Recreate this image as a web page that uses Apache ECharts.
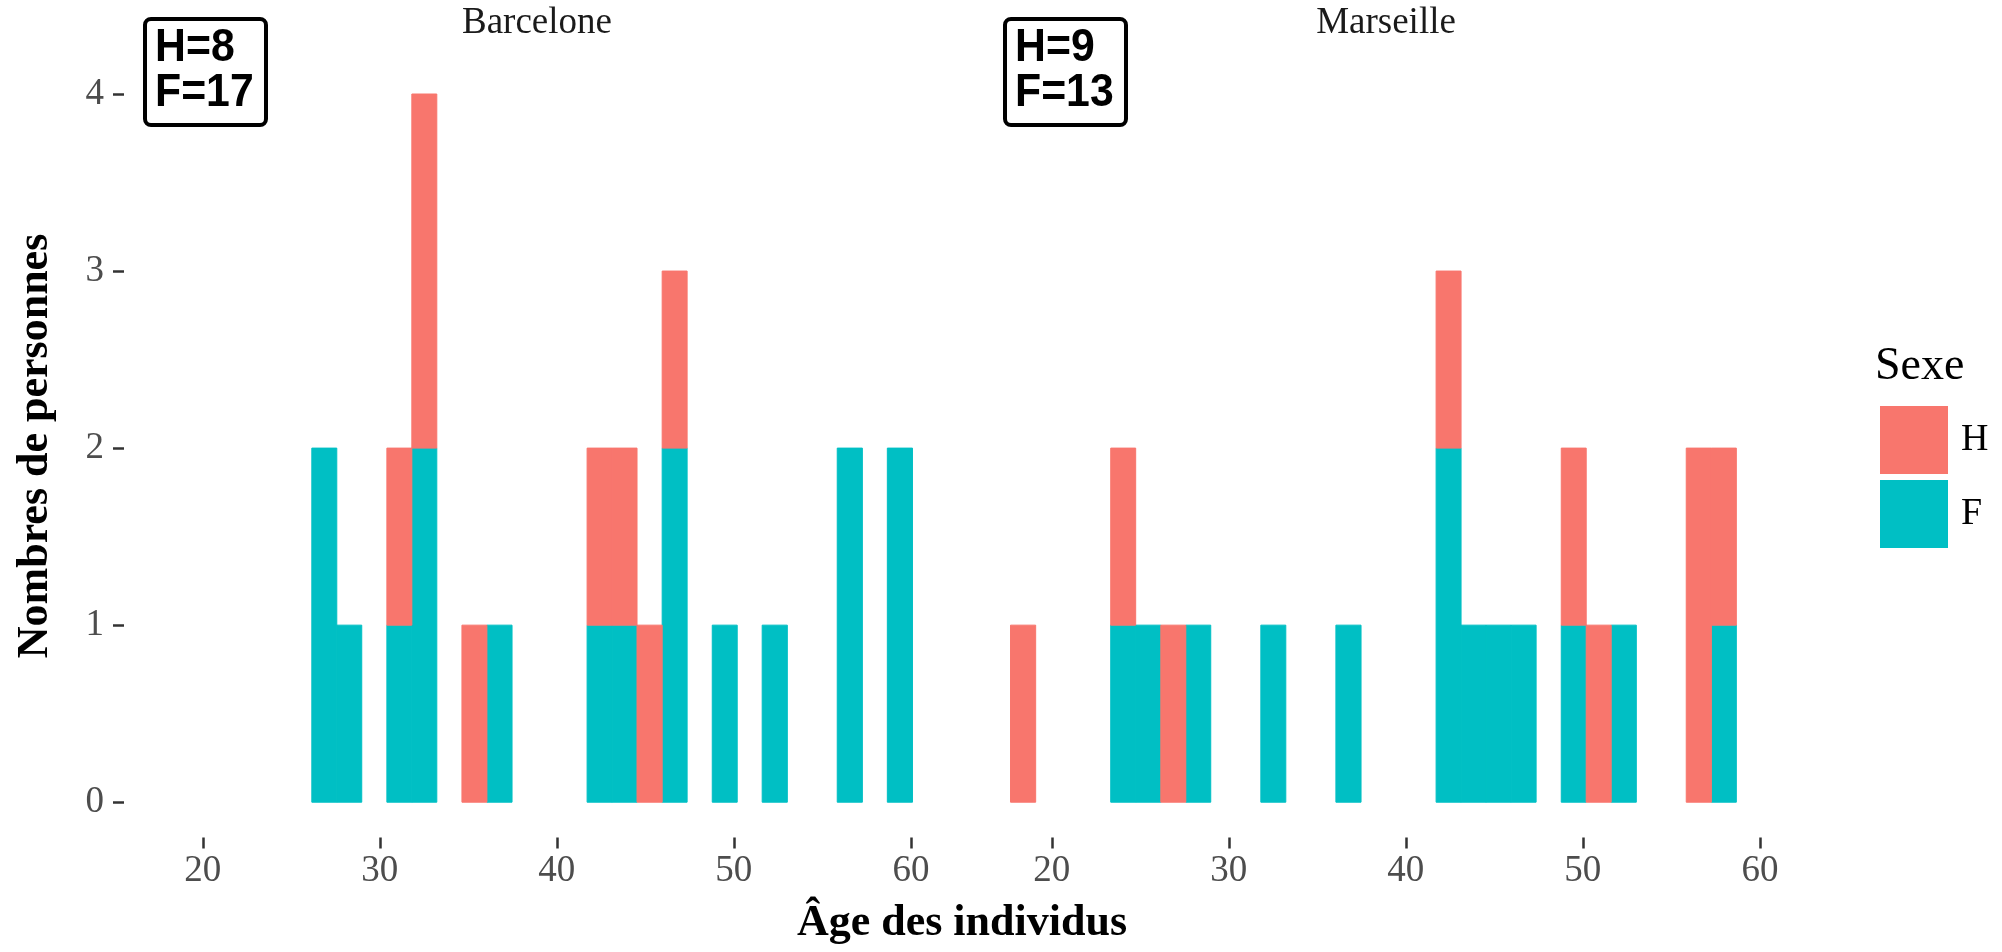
<!DOCTYPE html>
<html><head><meta charset="utf-8">
<script src="https://cdn.jsdelivr.net/npm/echarts@6/dist/echarts.min.js"></script>
<style>html,body{margin:0;padding:0;background:#fff}#c{width:2002px;height:952px}</style>
</head><body><div id="c"></div>
<script>
// ---- data ----
const panels = ['Barcelone', 'Marseille'];
const sexes = ['H', 'F'];
const binEdges = [17.67, 19.09, 20.50, 21.91, 23.33, 24.74, 26.16, 27.57, 28.98, 30.40,
  31.81, 33.22, 34.64, 36.05, 37.47, 38.88, 40.29, 41.71, 43.12, 44.53,
  45.95, 47.36, 48.78, 50.19, 51.60, 53.02, 54.43, 55.84, 57.26, 58.67, 60.09];
const barcH = [0,0,0,0,0,0,0,0,0,1, 2,0,1,0,0,0,0,1,1,1, 1,0,0,0,0,0,0,0,0,0];
const barcF = [0,0,0,0,0,0,2,1,0,1, 2,0,0,1,0,0,0,1,1,0, 2,0,1,0,1,0,0,2,0,2];
const marsH = [1,0,0,0,1,0,1,0,0,0, 0,0,0,0,0,0,0,1,0,0, 0,0,1,1,0,0,0,2,1,0];
const marsF = [0,0,0,0,1,1,0,1,0,0, 1,0,0,1,0,0,0,2,1,1, 1,0,1,0,1,0,0,0,1,0];
const countLabels = ['H=8\nF=17', 'H=9\nF=13'];
const xTicks = [20, 30, 40, 50, 60];
const yTicks = [0, 1, 2, 3, 4];
const xRange = [15.55, 62.21];
const yRange = [-0.2, 4.2];

const colors = { H: '#F8766D', F: '#00BFC4' };
const serif = 'Liberation Serif';

function buildRects(F, H) {
  const f = [], h = [];
  for (let i = 0; i < F.length; i++) {
    if (F[i] > 0) f.push([binEdges[i], binEdges[i + 1], 0, F[i]]);
    if (H[i] > 0) h.push([binEdges[i], binEdges[i + 1], F[i], F[i] + H[i]]);
  }
  return { F: f, H: h };
}
const panelData = [buildRects(barcF, barcH), buildRects(marsF, marsH)];

function renderItem(params, api) {
  const p0 = api.coord([api.value(0), api.value(3)]);
  const p1 = api.coord([api.value(1), api.value(2)]);
  const c = api.visual('color');
  return {
    type: 'rect',
    shape: { x: p0[0], y: p0[1], width: p1[0] - p0[0], height: p1[1] - p0[1] },
    style: { fill: c, stroke: c, lineWidth: 1 }
  };
}

const gridLefts = [124, 973];
const grids = gridLefts.map(l => ({ left: l, top: 58.6, width: 826, height: 779, outerBoundsMode: 'none', containLabel: false }));

const xAxes = panels.map((p, i) => ({
  type: 'value', gridIndex: i, min: xRange[0], max: xRange[1],
  axisLine: { show: false, onZero: false },
  splitLine: { show: false },
  axisTick: { show: true, customValues: xTicks, length: 11, lineStyle: { color: '#333333', width: 2.5 } },
  axisLabel: { show: true, customValues: xTicks, margin: 15, fontFamily: serif, fontSize: 37, color: '#4D4D4D' }
}));
const yAxes = panels.map((p, i) => ({
  type: 'value', gridIndex: i, min: yRange[0], max: yRange[1],
  axisLine: { show: false, onZero: false },
  splitLine: { show: false },
  axisTick: { show: i === 0, customValues: yTicks, length: 11, lineStyle: { color: '#333333', width: 2.5 } },
  axisLabel: { show: i === 0, customValues: yTicks, margin: 20, fontFamily: serif, fontSize: 37, color: '#4D4D4D' }
}));

const series = [];
panels.forEach((p, i) => {
  sexes.slice().reverse().forEach(s => {
    series.push({
      type: 'custom', name: s, xAxisIndex: i, yAxisIndex: i,
      renderItem: renderItem,
      itemStyle: { color: colors[s] },
      encode: { x: [0, 1], y: [2, 3] },
      data: panelData[i][s],
      animation: false
    });
  });
});

function countBox(text, left) {
  return {
    type: 'group', left: left, top: 17, z: 100,
    children: [
      { type: 'rect', shape: { x: 2, y: 2, width: 121, height: 106, r: 6 }, style: { fill: '#fff', stroke: '#000', lineWidth: 4 } },
      { type: 'text', x: 12, y: 9, scaleX: 0.93, style: { text: text, font: 'bold 46px "Liberation Sans"', lineHeight: 45, fill: '#000', textAlign: 'left', textVerticalAlign: 'top' } }
    ]
  };
}

const graphics = [
  countBox(countLabels[0], 143),
  countBox(countLabels[1], 1003),
  { type: 'text', x: 537, y: 23, style: { text: panels[0], font: '37px "Liberation Serif"', fill: '#1A1A1A', textAlign: 'center', textVerticalAlign: 'middle' } },
  { type: 'text', x: 1386, y: 23, style: { text: panels[1], font: '37px "Liberation Serif"', fill: '#1A1A1A', textAlign: 'center', textVerticalAlign: 'middle' } },
  { type: 'text', x: 962, y: 924, style: { text: 'Âge des individus', font: 'bold 44px "Liberation Serif"', fill: '#000', textAlign: 'center', textVerticalAlign: 'middle' } },
  { type: 'text', x: 36, y: 446, rotation: Math.PI / 2, style: { text: 'Nombres de personnes', font: 'bold 44px "Liberation Serif"', fill: '#000', textAlign: 'center', textVerticalAlign: 'middle' } },
  { type: 'text', x: 1875, y: 367, style: { text: 'Sexe', font: '46px "Liberation Serif"', fill: '#000', textAlign: 'left', textVerticalAlign: 'middle' } }
];

const chart = echarts.init(document.getElementById('c'), null, { renderer: 'canvas' });
chart.setOption({
  animation: false,
  backgroundColor: '#fff',
  grid: grids,
  xAxis: xAxes,
  yAxis: yAxes,
  legend: {
    data: sexes, orient: 'vertical', left: 1875, top: 401,
    itemWidth: 68, itemHeight: 68, itemGap: 6, icon: 'rect',
    textStyle: { fontFamily: serif, fontSize: 38, color: '#000', padding: [0, 0, 0, 8] },
    selectedMode: false
  },
  graphic: graphics,
  series: series
});
</script></body></html>
